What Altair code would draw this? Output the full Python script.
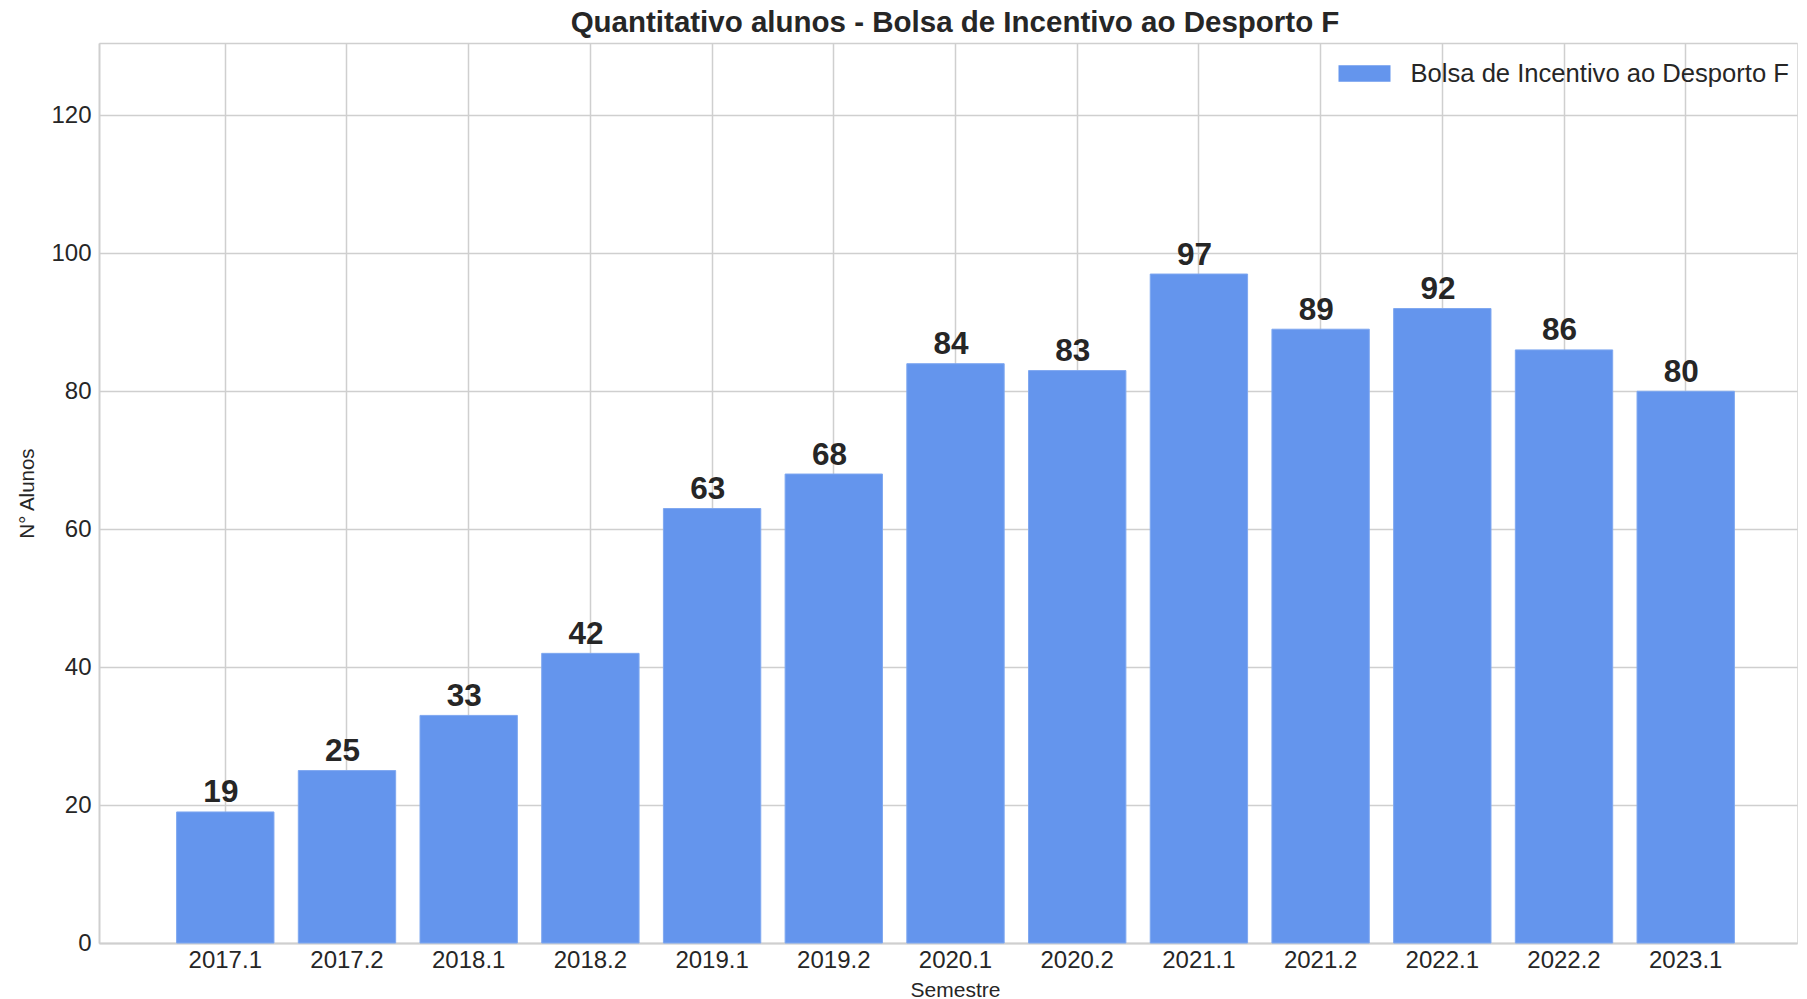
import altair as alt
import pandas as pd

semestres = ["2017.1", "2017.2", "2018.1", "2018.2", "2019.1", "2019.2", "2020.1",
             "2020.2", "2021.1", "2021.2", "2022.1", "2022.2", "2023.1"]
alunos = [19, 25, 33, 42, 63, 68, 84, 83, 97, 89, 92, 86, 80]
serie = "Bolsa de Incentivo ao Desporto F"
y_ticks = [0, 20, 40, 60, 80, 100, 120]
y_max = 130.5

df = pd.DataFrame({"Semestre": semestres, "Alunos": alunos, "Serie": [serie] * len(semestres)})

FONT = "Liberation Sans"
TXT = "#262626"
GRID = "#cfcfcf"
W, H = 1698, 900

x_enc = alt.X(
    "Semestre:N",
    sort=semestres,
    scale=alt.Scale(paddingInner=0.2, paddingOuter=0.576, align=0.5535, round=False),
    axis=alt.Axis(
        title="Semestre", labelAngle=0, labelFontSize=24, labelFont=FONT, labelColor=TXT,
        labelPadding=5, ticks=False, grid=True, gridColor=GRID, gridWidth=1.5,
        domainColor=GRID, domainWidth=2,
        titleFontSize=21, titleFont=FONT, titleColor=TXT, titleFontWeight="normal",
        titleX=W / 2 + 7, titleY=36, titleBaseline="top",
    ),
)
y_enc = alt.Y(
    "Alunos:Q",
    scale=alt.Scale(domain=[0, y_max], nice=False, zero=True),
    axis=alt.Axis(
        title="N° Alunos", values=y_ticks + [y_max],
        labelExpr="datum.value > 125 ? '' : datum.label",
        labelFontSize=24, labelFont=FONT, labelColor=TXT, labelPadding=8,
        ticks=False, grid=True, gridColor=GRID, gridWidth=1.5,
        domainColor=GRID, domainWidth=2,
        titleFontSize=20.5, titleFont=FONT, titleColor=TXT, titleFontWeight="normal",
        titleX=-66, titleY=H / 2, titleBaseline="alphabetic", titleAngle=270,
    ),
)

bars = alt.Chart(df).mark_bar(stroke="#7fa8f0", strokeWidth=1).encode(
    x=x_enc,
    y=y_enc,
    color=alt.Color(
        "Serie:N",
        scale=alt.Scale(domain=[serie], range=["#6495ED"]),
        legend=alt.Legend(
            title=None, orient="none", legendX=1239.5, legendY=4.5, padding=0,
            symbolType="M-1,-0.3135L1,-0.3135L1,0.3135L-1,0.3135Z", symbolSize=2704,
            symbolStrokeWidth=0, labelOffset=20, labelFontSize=25.6, labelFont=FONT,
            labelColor=TXT, labelLimit=0,
        ),
    ),
)

labels = alt.Chart(df).mark_text(
    font=FONT, fontSize=31.5, fontWeight="bold", color=TXT,
    baseline="alphabetic", align="center", dy=-9.5, dx=-4.4,
).encode(
    x=alt.X("Semestre:N", sort=semestres),
    y=alt.Y("Alunos:Q"),
    text=alt.Text("Alunos:Q"),
)

chart = alt.layer(bars, labels).properties(
    width=W, height=H,
    title=alt.TitleParams(
        "Quantitativo alunos - Bolsa de Incentivo ao Desporto F",
        font=FONT, fontSize=29.5, fontWeight="bold", color=TXT,
        anchor="middle", dx=7, offset=5,
    ),
    autosize=alt.AutoSizeParams(type="none"),
    padding={"left": 91, "top": 35, "right": 2, "bottom": 56},
).configure_view(stroke=None).configure(background="white")

chart.save("out.html", embed_options={"renderer": "svg", "actions": False})
